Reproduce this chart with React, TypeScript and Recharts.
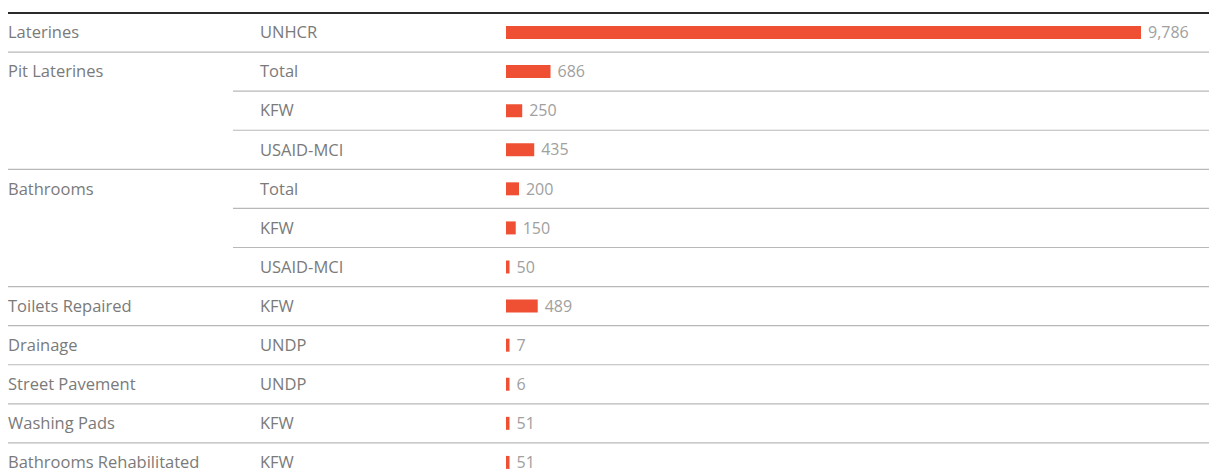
import React from "react";
import { BarChart, Bar, XAxis, YAxis, LabelList } from "recharts";

const categories = [
  "Laterines",
  "Pit Laterines",
  "",
  "",
  "Bathrooms",
  "",
  "",
  "Toilets Repaired",
  "Drainage",
  "Street Pavement",
  "Washing Pads",
  "Bathrooms Rehabilitated",
];
const agencies = [
  "UNHCR",
  "Total",
  "KFW",
  "USAID-MCI",
  "Total",
  "KFW",
  "USAID-MCI",
  "KFW",
  "UNDP",
  "UNDP",
  "KFW",
  "KFW",
];
const values = [9786, 686, 250, 435, 200, 150, 50, 489, 7, 6, 51, 51];

const data = values.map((v, i) => ({
  key: `r${i}`,
  category: categories[i],
  agency: agencies[i],
  value: v,
}));

const CHART_W = 1207;
const CHART_H = 474;
const TOP = 5;
const BAND = (CHART_H - TOP) / data.length;
const FONT = "'Open Sans', 'Liberation Sans', Arial, sans-serif";

const RowTick = (props: any) => {
  const { y, index } = props;
  const row = data[index];
  if (!row) return null;
  const next = data[index + 1];
  const groupEnd = !next || next.category !== "";
  const bottom = y + BAND / 2;
  return (
    <g>
      {index === 0 && (
        <line x1={0} x2={CHART_W} y1={y - BAND / 2} y2={y - BAND / 2} stroke="#2a2a2a" strokeWidth={2} />
      )}
      <text x={0} y={y} dy="0.35em" fontFamily={FONT} fontSize={16.5} fill="#7a7a7a">
        {row.category}
      </text>
      <text x={252} y={y} dy="0.35em" fontFamily={FONT} fontSize={16.5} fill="#7a7a7a">
        {row.agency}
      </text>
      <line
        x1={groupEnd ? 0 : 225}
        x2={CHART_W - 2}
        y1={bottom}
        y2={bottom}
        stroke="#b8b8b8"
        strokeWidth={1.2}
      />
    </g>
  );
};

const fmt = (v: any) => Number(v).toLocaleString("en-US");

export default function App() {
  return (
    <div style={{ width: CHART_W, height: 468, overflow: "hidden" }}>
      <BarChart
        width={CHART_W}
        height={CHART_H}
        data={data}
        layout="vertical"
        margin={{ top: TOP, right: 74, bottom: 0, left: 0 }}
      >
        <XAxis type="number" hide domain={[0, "dataMax"]} />
        <YAxis
          type="category"
          dataKey="key"
          width={498}
          axisLine={false}
          tickLine={false}
          interval={0}
          tick={<RowTick />}
        />
        <Bar dataKey="value" fill="#ef5034" barSize={13} minPointSize={3.5} isAnimationActive={false}>
          <LabelList
            dataKey="value"
            position="right"
            offset={7}
            formatter={fmt}
            style={{ fontFamily: FONT, fontSize: 16, fill: "#a0a0a0" }}
          />
        </Bar>
      </BarChart>
    </div>
  );
}
